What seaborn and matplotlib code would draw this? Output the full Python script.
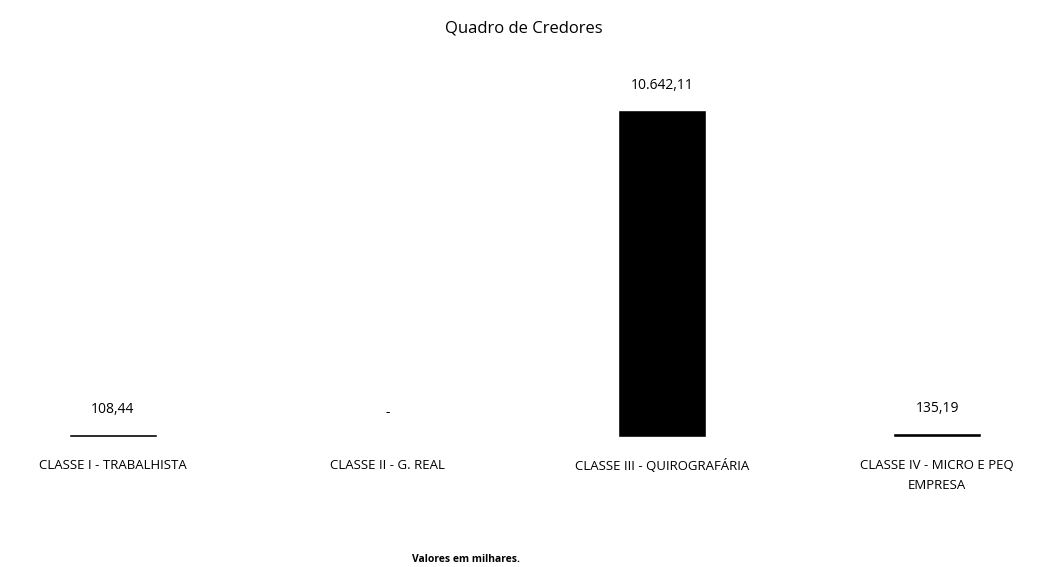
import numpy as np
import pandas as pd
import seaborn as sns
from matplotlib import pyplot as plt

categorias = ["CLASSE I - TRABALHISTA", "CLASSE II - G. REAL",
              "CLASSE III - QUIROGRAFÁRIA", "CLASSE IV - MICRO E PEQ\nEMPRESA"]
valores = [108.44, 0.0, 10642.11, 135.19]
rotulos = ["108,44", "-", "10.642,11", "135,19"]

sns.set_style("white")
plt.rcParams["font.family"] = ["Open Sans", "DejaVu Sans"]
plt.rcParams["text.color"] = "black"
plt.rcParams["xtick.color"] = "black"

df = pd.DataFrame({"classe": categorias, "valor": valores})

fig = plt.figure(figsize=(10.47, 5.67), dpi=100)
ax = fig.add_axes([0, 0.229, 1, 0.63])
sns.barplot(data=df, x="classe", y="valor", color="black", width=0.32,
            saturation=1, ax=ax)

for i, (v, r) in enumerate(zip(valores, rotulos)):
    ax.text(i, v + 560, r, ha="center", va="bottom", fontsize=10)

ax.set_xlim(-0.41, 3.4)
ax.set_ylim(0, 11620)
ax.set_xlabel("")
ax.set_ylabel("")
ax.set_yticks([])
ax.tick_params(axis="x", length=0, pad=16, labelsize=9.5)
for lbl in ax.get_xticklabels():
    lbl.set_linespacing(1.7)
sns.despine(ax=ax, left=True, bottom=True)

fig.text(0.5, 0.95, "Quadro de Credores", ha="center", va="center", fontsize=12)
fig.text(0.445, 0.013, "Valores em milhares.", ha="center", va="center",
         fontsize=7.5, fontweight="bold")

plt.savefig("out.png", dpi=100)
